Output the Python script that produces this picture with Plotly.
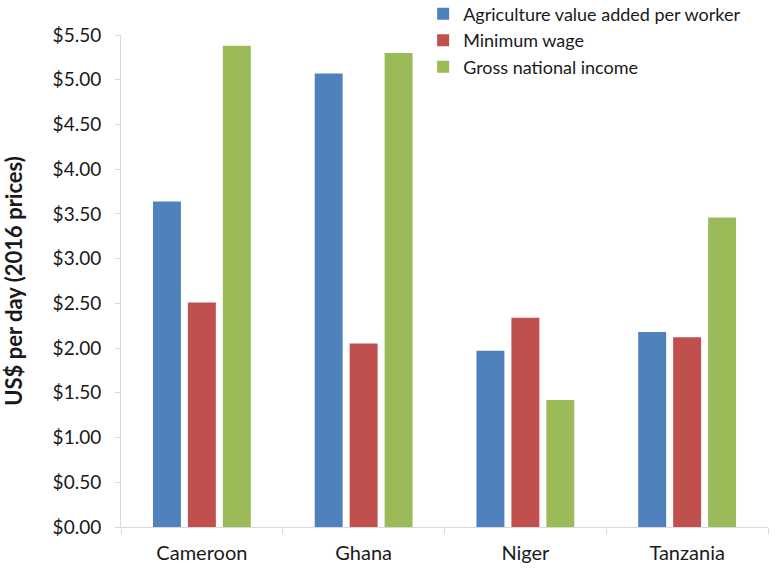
import plotly.graph_objects as go

countries = ["Cameroon", "Ghana", "Niger", "Tanzania"]
agri_value_added = [3.64, 5.07, 1.97, 2.18]
minimum_wage = [2.51, 2.05, 2.34, 2.12]
gross_national_income = [5.38, 5.30, 1.42, 3.46]
tick_vals = [0, 0.5, 1, 1.5, 2, 2.5, 3, 3.5, 4, 4.5, 5, 5.5]
tick_text = ["$0.00", "$0.50", "$1.00", "$1.50", "$2.00", "$2.50", "$3.00",
             "$3.50", "$4.00", "$4.50", "$5.00", "$5.50"]

series = [
    ("Agriculture value added per worker", agri_value_added, "#4F81BD"),
    ("Minimum wage", minimum_wage, "#C0504D"),
    ("Gross national income", gross_national_income, "#9BBB59"),
]

fig = go.Figure()
for name, vals, color in series:
    fig.add_trace(go.Bar(x=countries, y=vals, name=name,
                         marker=dict(color=color, line=dict(width=0))))

font_family = "Lato, 'Open Sans', sans-serif"
txt = "#1a1a1a"
fig.update_layout(
    width=780, height=568,
    margin=dict(l=121, r=12, t=35, b=41, autoexpand=False),
    paper_bgcolor="white", plot_bgcolor="white",
    barmode="group", bargap=0.352, bargroupgap=0.2,
    font=dict(family=font_family, size=19, color=txt),
    showlegend=True,
    legend=dict(x=0.467, y=1.08, xanchor="left", yanchor="top",
                bgcolor="rgba(255,255,255,0)", font=dict(size=18, color=txt),
                tracegroupgap=0, itemwidth=30),
    xaxis=dict(showline=True, linecolor="#d9d9d9", linewidth=1,
               ticks="outside", tickson="boundaries", ticklen=6, tickcolor="#d9d9d9",
               showgrid=False, tickfont=dict(size=20, color=txt),
               ticklabelstandoff=8),
    yaxis=dict(range=[0, 5.5], tickvals=tick_vals, ticktext=tick_text,
               showline=True, linecolor="#d9d9d9", linewidth=1,
               ticks="outside", ticklen=5, tickcolor="#d9d9d9",
               showgrid=False, zeroline=False,
               tickfont=dict(size=19, color=txt), ticklabelstandoff=10,
               title=dict(text="<b>US$ per day (2016 prices)</b>",
                          font=dict(size=22, color=txt), standoff=33)),
)

fig.write_html(
    "out.html",
    config={"displayModeBar": False},
    post_script="document.body.style.margin='0';document.body.style.overflow='hidden';",
)
